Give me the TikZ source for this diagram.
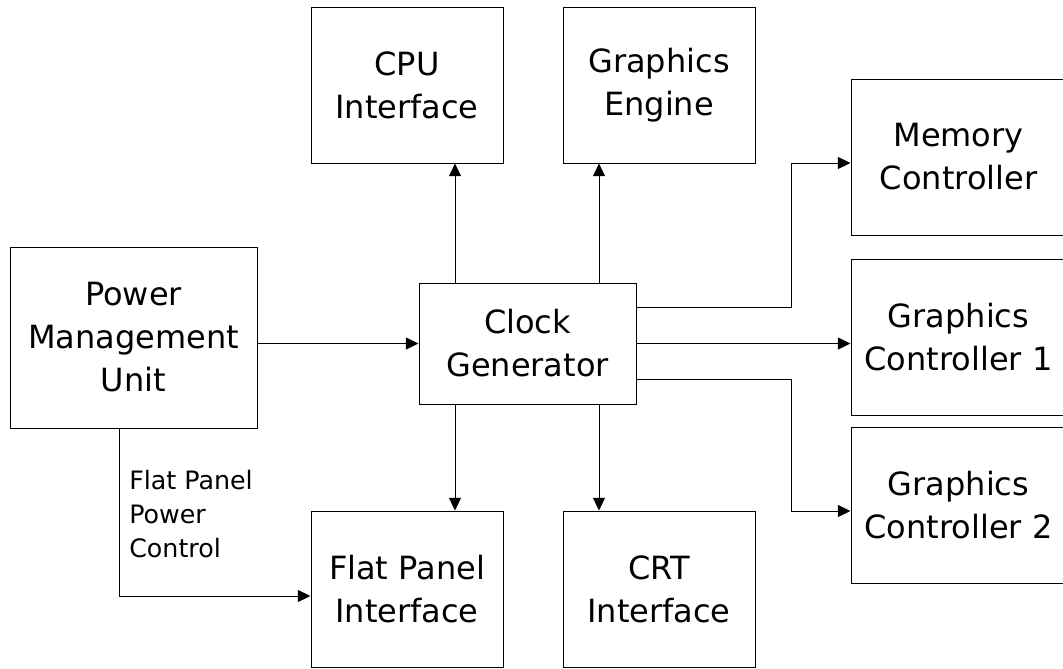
\documentclass[tikz,border=0pt]{standalone}
\usepackage{fontspec}
\setmainfont{DejaVu Sans}
\usetikzlibrary{arrows.meta}
\begin{document}
\begin{tikzpicture}[x=0.75pt,y=-0.75pt,
  blk/.style 2 args={draw=black, line width=0.75pt, inner sep=0pt,
    minimum width=#1*0.75pt, minimum height=#2*0.75pt,
    align=center, font=\fontsize{24}{32.25}\selectfont},
  arr/.style={draw=black, line width=0.75pt,
    -{Triangle[length=9.5pt,width=9pt]}},
  lbl/.style={inner sep=0pt, anchor=west, align=left,
    font=\fontsize{19}{25.5}\selectfont}]
\useasboundingbox (0,0) rectangle (1063,668);
\clip (0,0) rectangle (1063,668);

% blocks
\node[blk={247}{181}] (pmu) at (133.5,337.5) {Power\\Management\\Unit};
\node[blk={217}{121}] (clk) at (527.5,343.5) {Clock\\Generator};
\node[blk={192}{156}] (cpu) at (407,85) {CPU\\Interface};
\node[blk={192}{156}] (ge)  at (659,85) {Graphics\\Engine};
\node[blk={192}{156}] (fpi) at (407,589) {Flat Panel\\Interface};
\node[blk={192}{156}] (crt) at (659,589) {CRT\\Interface};
\node[blk={215}{156}] (mem) at (958.5,157) {Memory\\Controller};
\node[blk={215}{156}] (gc1) at (958.5,337) {Graphics\\Controller 1};
\node[blk={215}{156}] (gc2) at (958.5,505) {Graphics\\Controller 2};

% routing points
\coordinate (xa) at (455,0);
\coordinate (xb) at (599,0);
\coordinate (xr) at (791,0);
\coordinate (xp) at (119,0);
\coordinate (ymt) at (0,163);
\coordinate (yml) at (0,307);
\coordinate (ygl) at (0,379);
\coordinate (ygt) at (0,511);
\coordinate (yfp) at (0,596);

% clock distribution
\draw[arr] (clk.north -| xa) -- (cpu.south -| xa);
\draw[arr] (clk.north -| xb) -- (ge.south -| xb);
\draw[arr] (clk.south -| xa) -- (fpi.north -| xa);
\draw[arr] (clk.south -| xb) -- (crt.north -| xb);
\draw[arr] (clk.east |- yml) -| (xr |- ymt) -- (mem.west |- ymt);
\draw[arr] (clk.east) -- (gc1.west |- clk.east);
\draw[arr] (clk.east |- ygl) -| (xr |- ygt) -- (gc2.west |- ygt);

% power management
\draw[arr] (pmu.east |- clk.west) -- (clk.west);
\draw[arr] (pmu.south -| xp) |- (fpi.west |- yfp);
\node[lbl] (fpl) at (129,514) {Flat Panel\\Power\\Control};
\end{tikzpicture}
\end{document}
